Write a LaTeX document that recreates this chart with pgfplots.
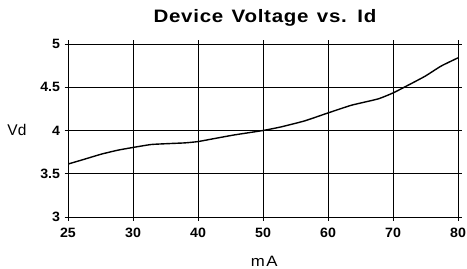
\documentclass[border=0pt]{standalone}
\usepackage{pgfplots}
\pgfplotsset{compat=1.18}
\usepackage{fontspec}
\setmainfont{Liberation Sans}
\newfontfamily\titlefont[FakeStretch=1.14,LetterSpace=4,WordSpace=1.3]{Liberation Sans}
\newfontfamily\labelfont[FakeStretch=1.12,LetterSpace=10]{Liberation Sans}
\newfontfamily\tickfont[FakeStretch=1.05]{Liberation Sans}
\begin{document}
\begin{tikzpicture}[x=1bp,y=1bp]
\useasboundingbox (0,0) rectangle (467,268);
\begin{axis}[
  at={(68bp,51bp)}, anchor=south west,
  scale only axis, width=390bp, height=173bp,
  xmin=0, xmax=6, ymin=3, ymax=5,
  xtick={0,1,2,3,4,5,6},
  xticklabels={25,30,40,50,60,70,80},
  ytick={3,3.5,4,4.5,5},
  yticklabels={3,3.5,4,4.5,5},
  /pgf/number format/assume math mode=true,
  grid=major,
  major grid style={black, line width=0.6bp},
  axis line style={black, line width=0.9bp},
  tick align=center,
  major tick length=7bp,
  tick style={black, line width=0.6bp},
  xticklabel style={font=\tickfont\fontsize{13.5bp}{15bp}\selectfont\bfseries, yshift=-4.5bp},
  yticklabel style={font=\tickfont\fontsize{13.5bp}{15bp}\selectfont\bfseries, xshift=-1bp},
  title={\titlefont\fontsize{18bp}{20bp}\selectfont\bfseries Device Voltage vs. Id},
  title style={at={(axis description cs:0.505,1.115)}, anchor=center, inner sep=0pt},
  xlabel={\labelfont\fontsize{15bp}{17bp}\selectfont mA},
  xlabel style={at={(axis description cs:0.503,-0.254)}, anchor=center, inner sep=0pt},
  ylabel={\fontsize{15.5bp}{17bp}\selectfont Vd},
  ylabel style={at={(axis description cs:-0.131,0.503)}, anchor=center, rotate=-90, inner sep=0pt},
]
\addplot[black, line width=1.4bp, smooth, tension=0.3] coordinates {
(0,3.612) (0.257,3.669) (0.514,3.727) (0.77,3.773) (1.0,3.804) (1.28,3.838)
(1.59,3.85) (1.8,3.857) (2.0,3.872) (2.26,3.908) (2.56,3.949) (3,4.0)
(3.28,4.042) (3.64,4.111) (4.0,4.203) (4.36,4.292) (4.77,4.365) (5,4.434)
(5.18,4.503) (5.49,4.626) (5.74,4.745) (6,4.84)
};
\end{axis}
\end{tikzpicture}
\end{document}
